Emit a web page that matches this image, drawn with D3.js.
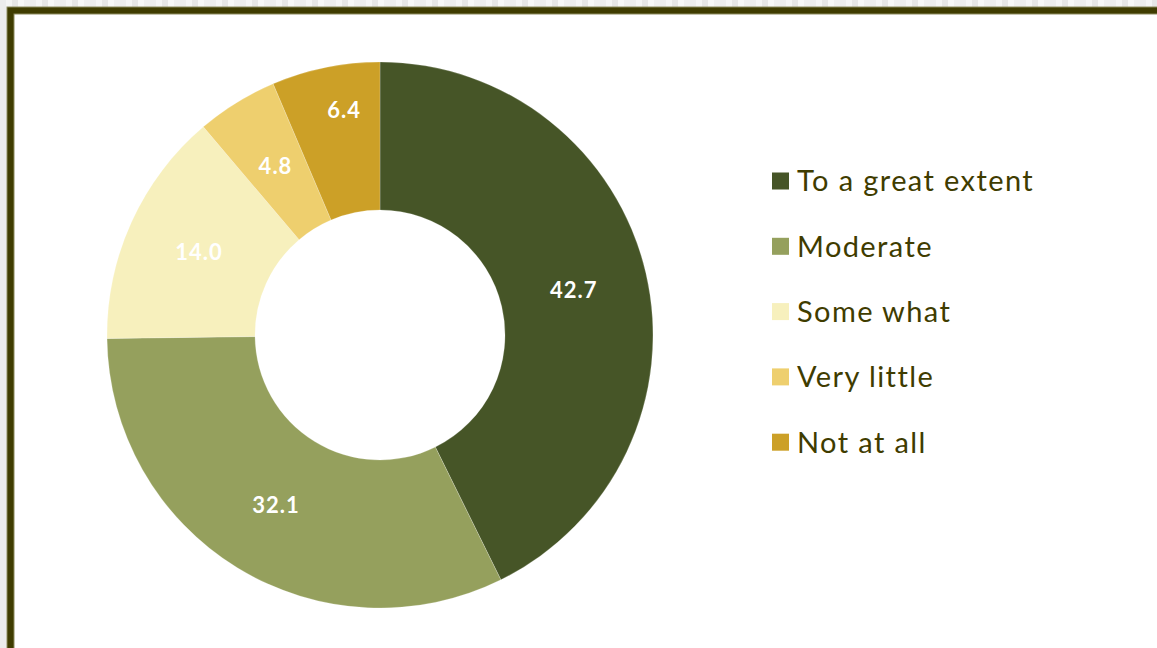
<!DOCTYPE html>
<html>
<head>
<meta charset="utf-8">
<script src="https://cdn.jsdelivr.net/npm/d3@7"></script>
<style>
  html, body { margin: 0; padding: 0; background: #ededed; }
  svg { display: block; }
</style>
</head>
<body>
<svg id="chart" width="1157" height="648"></svg>
<script>
// Survey responses (percent)
const categories = ["To a great extent", "Moderate", "Some what", "Very little", "Not at all"];
const values = [42.7, 32.1, 14.0, 4.8, 6.4];
const colors = ["#465527", "#95a05d", "#f7f0bd", "#eecf6e", "#cca027"];

const W = 1157, H = 648;
const svg = d3.select("#chart");

// Faint striped backdrop behind the frame
const stripes = d3.range(0, W, 6);
svg.append("g").selectAll("rect").data(stripes).join("rect")
  .attr("x", d => d).attr("y", 0).attr("width", 6).attr("height", H)
  .attr("fill", (d, i) => ["#ececec", "#f4f4f4", "#e6e6e6", "#f7f7f7", "#efefef"][i % 5]);

// Framed white panel
svg.append("rect")
  .attr("x", 10.5).attr("y", 10.5)
  .attr("width", W + 20).attr("height", H + 20)
  .attr("fill", "#ffffff")
  .attr("stroke", "#8c8a5c").attr("stroke-width", 8);
svg.append("rect")
  .attr("x", 10.5).attr("y", 10.5)
  .attr("width", W + 20).attr("height", H + 20)
  .attr("fill", "none")
  .attr("stroke", "#3f3c00").attr("stroke-width", 6);

// Donut
const cx = 380, cy = 335, rOuter = 273, rInner = 125;
const pie = d3.pie().sort(null).value(d => d.value);
const arc = d3.arc().innerRadius(rInner).outerRadius(rOuter);
const data = categories.map((c, i) => ({ name: c, value: values[i], color: colors[i] }));
const arcs = pie(data);

const g = svg.append("g").attr("transform", `translate(${cx},${cy})`);
g.selectAll("path").data(arcs).join("path")
  .attr("d", arc)
  .attr("fill", d => d.data.color)
  .attr("stroke", "rgba(255,255,255,0.35)")
  .attr("stroke-width", 0.6);

// Value labels sit at the ring's midline; the last slice's label is nudged outward
const outerLabelArc = d3.arc().innerRadius(190).outerRadius(270);
function labelPos(d, i) {
  if (i === arcs.length - 1) {
    const [x, y] = outerLabelArc.centroid(d);
    return [x + 10, y];
  }
  return arc.centroid(d);
}
g.selectAll("text").data(arcs).join("text")
  .attr("transform", (d, i) => `translate(${labelPos(d, i)})`)
  .attr("text-anchor", "middle")
  .attr("dy", "0.36em")
  .attr("font-family", "Lato, 'Open Sans', sans-serif")
  .attr("font-weight", "bold")
  .attr("font-size", 22)
  .attr("letter-spacing", 1)
  .attr("fill", "#ffffff")
  .text(d => d.data.value.toFixed(1));

// Legend
const legend = svg.append("g").attr("transform", "translate(772,181)");
const rowGap = 65.3;
const items = legend.selectAll("g").data(data).join("g")
  .attr("transform", (d, i) => `translate(0,${i * rowGap})`);
items.append("rect")
  .attr("x", 0).attr("y", -8.5).attr("width", 17).attr("height", 17)
  .attr("fill", d => d.color);
items.append("text")
  .attr("x", 25).attr("y", 0).attr("dy", "0.36em")
  .attr("font-family", "Lato, 'Open Sans', sans-serif")
  .attr("font-size", 29)
  .attr("letter-spacing", 1.4)
  .attr("fill", "#3f3c00")
  .text(d => d.name);
</script>
</body>
</html>
